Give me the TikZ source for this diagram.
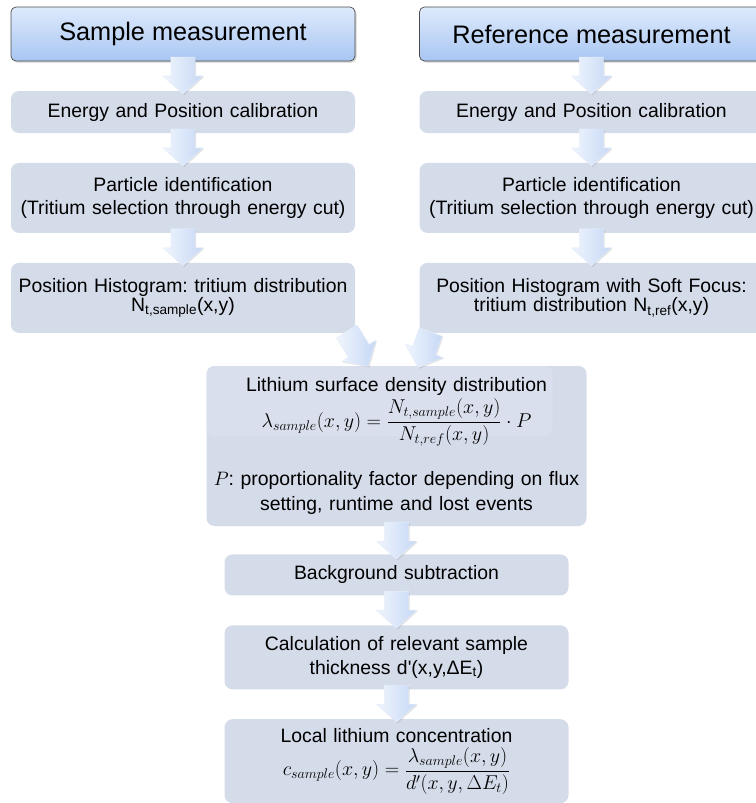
\RequirePackage{fix-cm}
\documentclass[tikz,border=0pt]{standalone}
\usepackage{fontspec}
\setmainfont{Liberation Sans}
\usetikzlibrary{positioning, calc, shapes.arrows, shadows}
\definecolor{stepFill}{HTML}{D4DBE9}
\definecolor{stepLight}{HTML}{D9DFEC}
\definecolor{headTop}{HTML}{DEEAFC}
\definecolor{headBot}{HTML}{A8C6F2}
\definecolor{arrTail}{HTML}{F0F5FD}
\definecolor{arrHead}{HTML}{C6D8F5}
\newcommand{\fml}[1]{\mbox{\fontsize{20}{24}\selectfont$\displaystyle #1$}}

\begin{document}
\begin{tikzpicture}[
    x=1pt, y=1pt,
    node distance=29.5pt,
    head/.style={draw=black!70, line width=0.7pt, rounded corners=5pt,
      top color=headTop, bottom color=headBot, minimum width=344pt,
      minimum height=54pt, font=\fontsize{25.3}{30}\selectfont,
      drop shadow={opacity=0.35, shadow xshift=1.5pt, shadow yshift=-1.5pt}},
    box/.style={fill=stepFill, rounded corners=8pt, minimum width=344pt,
      text width=336pt, align=center, inner sep=4pt,
      font=\fontsize{19.4}{23.5}\selectfont\frenchspacing},
    tight/.style={font=\fontsize{19.4}{17}\selectfont\frenchspacing},
    blk/.style={single arrow, sloped, allow upside down, inner sep=0pt,
      text height=24pt, text depth=0pt, minimum height=37pt,
      single arrow head extend=8pt, single arrow tip angle=96,
      left color=arrTail, right color=arrHead,
      draw=white!60!arrHead, line width=0.4pt,
      drop shadow={opacity=0.25, shadow xshift=1pt, shadow yshift=-1pt}}]
    \useasboundingbox (0,0) rectangle (755,-803);
    % sample branch
    \node[head] (smp) at (183,-34) {Sample measurement};
    \node[box, minimum height=42pt, below=of smp] (ecalS) {Energy and Position calibration};
    \node[box, minimum height=70pt, below=of ecalS] (pidS) {Particle identification\\(Tritium selection through energy cut)};
    \node[box, tight, minimum height=70pt, below=of pidS] (posS)
      {Position Histogram: tritium distribution\\N\textsubscript{t,sample}(x,y)};
    % reference branch
    \node[head] (ref) at (591.5,-34) {Reference measurement};
    \node[box, minimum height=42pt, below=of ref] (ecalR) {Energy and Position calibration};
    \node[box, minimum height=70pt, below=of ecalR] (pidR) {Particle identification\\(Tritium selection through energy cut)};
    \node[box, tight, minimum height=70pt, below=of pidR] (posR)
      {Position Histogram with Soft Focus:\\tritium distribution N\textsubscript{t,ref}(x,y)};
    % common part
    \node[box, minimum width=380pt, text width=372pt, minimum height=160pt,
      path picture={\fill[stepLight, rounded corners=8pt]
        (path picture bounding box.north west) rectangle ++(346pt,-70pt);}]
      (dens) at (396.5,-446) {Lithium surface density distribution\\[2pt]
      \fml{\lambda_{sample}(x,y)=\frac{N_{t,sample}(x,y)}{N_{t,ref}(x,y)}\cdot P}\\[24pt]
      $P$: proportionality factor depending on flux\\[1.5pt]setting, runtime and lost events};
    \node[box, minimum height=41pt, below=28pt of dens] (bgs) {Background subtraction};
    \node[box, minimum height=64pt, below=of bgs] (thk)
      {Calculation of relevant sample\\thickness d\textquotesingle(x,y,ΔE\textsubscript{t})};
    \node[box, minimum height=84pt, below=of thk] (conc) {Local lithium concentration\\[4pt]
      \fml{c_{sample}(x,y)=\frac{\lambda_{sample}(x,y)}{d'(x,y,\Delta E_t)}}};
    % block arrows
    \path ($(smp.south)+(0,10)$) -- node[blk] {} ($(ecalS.north)+(0,2)$);
    \path ($(ecalS.south)+(0,10)$) -- node[blk] {} ($(pidS.north)+(0,2)$);
    \path ($(pidS.south)+(0,10)$) -- node[blk] {} ($(posS.north)+(0,2)$);
    \path ($(ref.south)+(0,10)$) -- node[blk] {} ($(ecalR.north)+(0,2)$);
    \path ($(ecalR.south)+(0,10)$) -- node[blk] {} ($(pidR.north)+(0,2)$);
    \path ($(pidR.south)+(0,10)$) -- node[blk] {} ($(posR.north)+(0,2)$);
    \coordinate (tailL) at ($(posS.south east)+(-11,5.5)$);
    \coordinate (tipL) at ($(dens.north)+(-31.5,5)$);
    \coordinate (tailR) at ($(posR.south west)+(13,5.5)$);
    \coordinate (tipR) at ($(dens.north)+(23.5,4)$);
    \path (tailL) -- node[blk, minimum height=41pt] {} (tipL);
    \path (tailR) -- node[blk, minimum height=38pt] {} (tipR);
    \path ($(dens.south)+(0,8)$) -- node[blk] {} ($(bgs.north)+(0,2)$);
    \path ($(bgs.south)+(0,10)$) -- node[blk] {} ($(thk.north)+(0,2)$);
    \path ($(thk.south)+(0,10)$) -- node[blk] {} ($(conc.north)+(0,2)$);
\end{tikzpicture}
\end{document}
